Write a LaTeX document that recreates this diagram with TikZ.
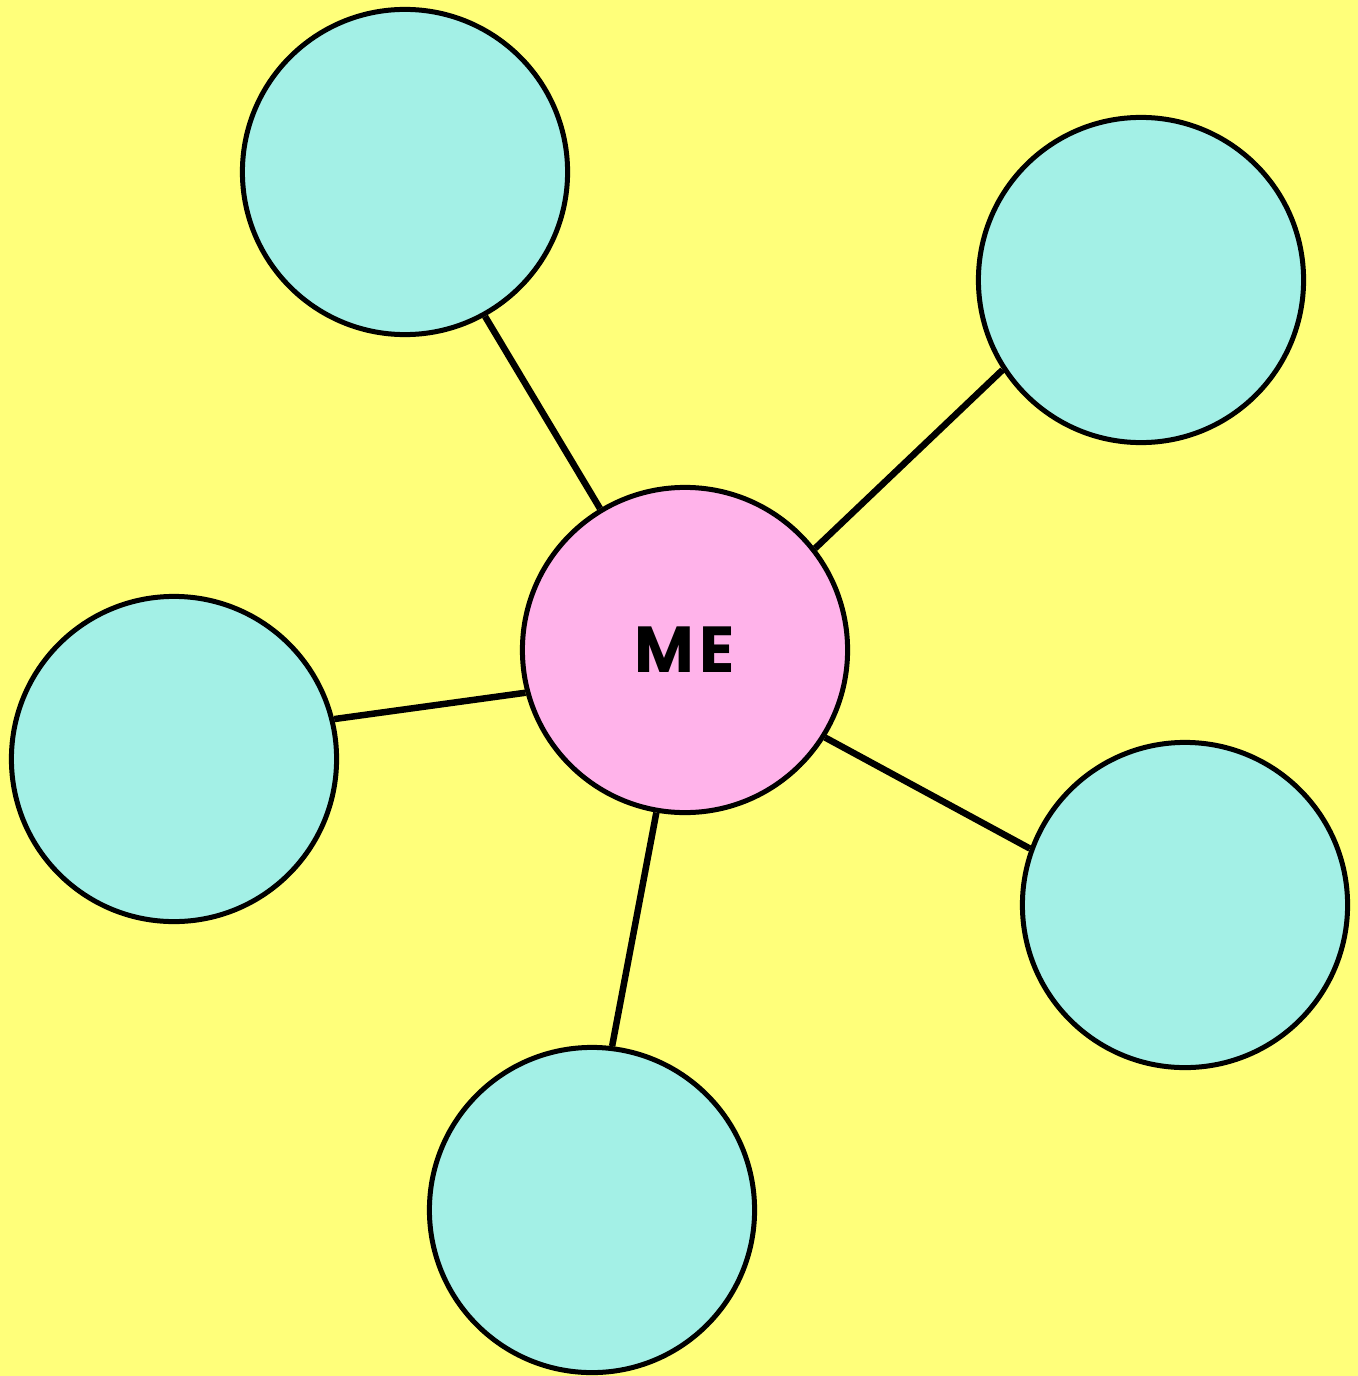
\documentclass[tikz,border=0pt]{standalone}
\usepackage{fontspec}
\setmainfont{Poppins}
\usetikzlibrary{positioning}

\definecolor{bgyellow}{HTML}{FFFF7A}
\definecolor{petal}{HTML}{A3F0E6}
\definecolor{core}{HTML}{FFB3EA}

\begin{document}
\begin{tikzpicture}[
        x = 0.01cm, y = -0.01cm,
        bubble/.style = {circle, draw = black, line width = 0.05cm, minimum size = 3.25cm, inner sep = 0pt},
        every petal/.style = {bubble, fill = petal},
        spoke/.style = {draw = black, line width = 0.065cm}
    ]

    \fill[bgyellow] (0,0) rectangle (1358,1376);
    \useasboundingbox (0,0) rectangle (1358,1376);

    \node[bubble, fill = core, font = \bfseries\fontsize{18.5}{20}\selectfont] (me) at (685,650) {M\kern0.08em E};

    \node[every petal] (p1) at (405,172) {};
    \node[every petal] (p2) at (1141,280) {};
    \node[every petal] (p3) at (174,759) {};
    \node[every petal] (p4) at (1185,905) {};
    \node[every petal] (p5) at (592,1210) {};

    % spokes leave the centre at their own angles
    \path[spoke] (me.121) -- (p1.-61.6);
    \path[spoke] (me.38.9) -- (p2.213.6);
    \path[spoke] (me.195.3) -- (p3.14.8);
    \path[spoke] (me.-32.4) -- (p4.160.5);
    \path[spoke] (me.260.7) -- (p5.83.4);
\end{tikzpicture}
\end{document}
